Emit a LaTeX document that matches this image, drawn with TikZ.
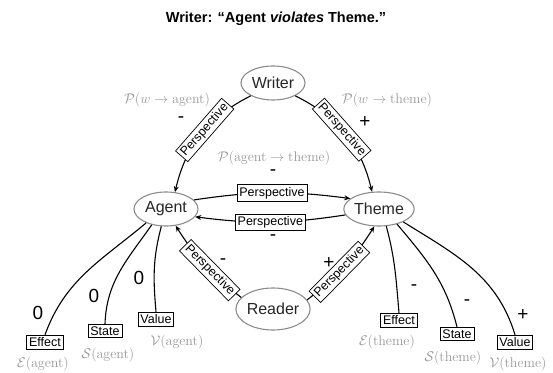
\documentclass[tikz,border=0pt]{standalone}
\usepackage{fix-cm}
\usepackage[no-math]{fontspec}
\setsansfont{Liberation Sans}
\usetikzlibrary{arrows.meta,shapes.geometric}

\definecolor{labelgray}{gray}{0.6}
\definecolor{rimgray}{gray}{0.55}

\begin{document}
\begin{tikzpicture}[
    x = 1pt, y = 1pt, % one unit is one point
    > = {Stealth[length=6pt,width=5pt]}, % arrow head style
    actor/.style = {draw=rimgray, line width=1.1pt, ellipse, minimum width=64pt,
        minimum height=34pt, inner sep=0pt, text=black!85,
        font=\sffamily\fontsize{16}{18}\selectfont},
    tag/.style = {draw, fill=white, line width=0.7pt, inner sep=2.3pt,
        font=\sffamily\fontsize{12.5}{14}\selectfont},
    sign/.style = {font=\sffamily\fontsize{19}{21}\selectfont},
    formula/.style = {text=labelgray, font=\fontsize{14}{16}\selectfont},
    link/.style = {line width=1.1pt} % line style
]
\useasboundingbox (0,0) rectangle (553,372);

% Title
\node[font=\sffamily\bfseries\fontsize{14.5}{17}\selectfont] (title) at (276,353)
    {Writer: “Agent \textit{violates} Theme.”};

% Nodes
\node[actor] (writer) at (273,289) {Writer};
\node[actor] (agent) at (166,163) {Agent};
\node[actor] (theme) at (379,163) {Theme};
\node[actor, minimum height=42pt] (reader) at (273,63) {Reader};

% Attribute boxes
\node[tag] (effa) at (45,30) {Effect};
\node[tag] (stata) at (105,41) {State};
\node[tag] (vala) at (156,53) {Value};
\node[tag] (efft) at (399,52) {Effect};
\node[tag] (statt) at (457,38) {State};
\node[tag] (valt) at (515,30) {Value};

% Edges
\draw[link, ->] (writer.210) to[bend right=25] node[tag, sloped, pos=0.45] (pwa) {Perspective} (agent.62);
\draw[link, ->] (writer.330) to[bend left=25] node[tag, sloped, pos=0.45] (pwt) {Perspective} (theme.112);
\draw[link, ->] (agent.18) to[bend left=8] node[tag] (pat) {Perspective} (theme.160);
\draw[link, ->] (theme.190) to[bend left=8] node[tag] (pta) {Perspective} (agent.345);
\draw[link, ->] (reader.160) to[bend left=10] node[tag, sloped, pos=0.42] (pra) {Perspective} (agent.300);
\draw[link, ->] (reader.15) to[bend right=10] node[tag, sloped, pos=0.42] (prt) {Perspective} (theme.255);

\draw[link] (agent.215) to[out=220, in=70] (effa.north);
\draw[link] (agent.228) to[out=235, in=88] (stata.north);
\draw[link] (agent.255) to[out=255, in=95] (vala.north);
\draw[link] (theme.293) to[out=285, in=95] (efft.north);
\draw[link] (theme.320) to[out=310, in=104] (statt.north);
\draw[link] (theme.332) to[out=328, in=107] (valt.north);

% Signs
\node[sign] (swa) at (181,252) {-};
\node[sign] (swt) at (365,250) {+};
\node[sign] (sat) at (273,199) {-};
\node[sign] (sta) at (273,134) {-};
\node[sign] (sra) at (223,110) {-};
\node[sign] (srt) at (329,109) {+};
\node[sign] (sea) at (38,59) {0};
\node[sign] (ssa) at (94,76) {0};
\node[sign] (sva) at (139,94) {0};
\node[sign] (set) at (414,84) {-};
\node[sign] (sst) at (467,69) {-};
\node[sign] (svt) at (523,57) {+};

% Formulas
\node[formula] (fwa) at (167,272) {$\mathcal{P}(w \rightarrow \mathrm{agent})$};
\node[formula] (fwt) at (387,272) {$\mathcal{P}(w \rightarrow \mathrm{theme})$};
\node[formula] (fat) at (274,214) {$\mathcal{P}(\mathrm{agent} \rightarrow \mathrm{theme})$};
\node[formula] (fea) at (43,8) {$\mathcal{E}(\mathrm{agent})$};
\node[formula] (fsa) at (108,17) {$\mathcal{S}(\mathrm{agent})$};
\node[formula] (fva) at (177,30) {$\mathcal{V}(\mathrm{agent})$};
\node[formula] (fet) at (387,30) {$\mathcal{E}(\mathrm{theme})$};
\node[formula] (fst) at (453,14) {$\mathcal{S}(\mathrm{theme})$};
\node[formula] (fvt) at (518,8) {$\mathcal{V}(\mathrm{theme})$};

\end{tikzpicture}
\end{document}
